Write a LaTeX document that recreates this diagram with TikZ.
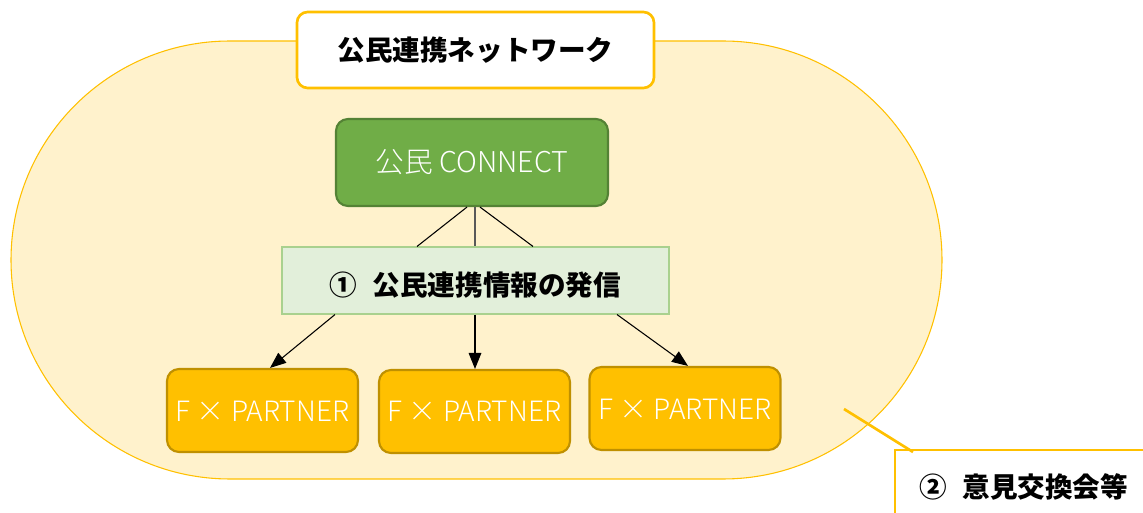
\documentclass[tikz,border=0pt]{standalone}
\usepackage{fontspec}
\setmainfont{Noto Sans CJK JP}
\IfFontExistsTF{Noto Sans CJK JP Light}{\newfontfamily\lightjp{Noto Sans CJK JP Light}}{\newfontfamily\lightjp{Noto Sans CJK JP}}
\usetikzlibrary{arrows.meta}
\definecolor{bgfill}{HTML}{FFF2CC}
\definecolor{gold}{HTML}{FFC000}
\definecolor{golddark}{HTML}{BF9000}
\definecolor{grn}{HTML}{70AD47}
\definecolor{grndark}{HTML}{548235}
\definecolor{lgrn}{HTML}{E2EFDA}
\definecolor{lgrnline}{HTML}{A9D18E}
\tikzset{
  titlebox/.style={draw=gold, line width=2pt, fill=white, rounded corners=8pt, minimum width=267.75pt, minimum height=57pt, inner sep=0pt, font=\fontsize{20.7pt}{24pt}\selectfont\bfseries},
  connbox/.style={draw=grndark, line width=1.6pt, fill=grn, rounded corners=9pt, minimum width=204pt, minimum height=65.25pt, inner sep=0pt, text=white, font=\fontsize{21.5pt}{24pt}\selectfont\lightjp},
  infobox/.style={draw=lgrnline, line width=0.8pt, fill=lgrn, minimum width=290.25pt, minimum height=50.25pt, inner sep=0pt},
  partbox/.style={draw=golddark, line width=1.6pt, fill=gold, rounded corners=9pt, minimum width=143.25pt, minimum height=62.25pt, inner sep=0pt},
  whitetxt/.style={text=white, font=\fontsize{21pt}{24pt}\selectfont\lightjp},
  boldtxt/.style={font=\fontsize{20.7pt}{24pt}\selectfont\bfseries},
  arr/.style={-{Triangle[length=12pt,width=9.5pt]}, line width=0.8pt, black},
  thin/.style={line width=0.8pt, black},
}
\begin{document}
\begin{tikzpicture}[x=0.75pt,y=-0.75pt]
\useasboundingbox (0,0) rectangle (1143,513);
% network area
\draw[draw=gold, line width=0.8pt, fill=bgfill, rounded corners=164.25pt] (11,41) rectangle (942,479);
% title
\node[titlebox] (title) at (475.5,50) {公民連携ネットワーク};
% connect
\node[connbox] (conn) at (472,162.5) {公民 CONNECT};
% info
\node[infobox] (info) at (475.5,280.5) {};
\node[boldtxt] (infot) at (475.5,285) {①\hspace{0.55em}公民連携情報の発信};
% partners
\node[partbox] (p1) at (262.5,410.5) {};
\node[whitetxt] (p1t) at (262.5,411) {F × PARTNER};
\node[partbox] (p2) at (474.5,411.5) {};
\node[whitetxt] (p2t) at (474.5,411) {F × PARTNER};
\node[partbox] (p3) at (685,408.5) {};
\node[whitetxt] (p3t) at (685,409) {F × PARTNER};
% lines connect -> info
\draw[thin] (467,0 |- conn.south) -- (417,0 |- info.north);
\draw[line width=1.2pt, black!65] (475,0 |- conn.south) -- (475,0 |- info.north);
\draw[thin] (480,0 |- conn.south) -- (533,0 |- info.north);
% arrows info -> partners
\draw[arr] (335,0 |- info.south) -- (270,0 |- p1.north);
\draw[arr] (475,0 |- info.south) -- (475,0 |- p2.north);
\draw[arr] (617,0 |- info.south) -- (688,0 |- p3.north);
% callout
\coordinate (lead) at (844,409);
\coordinate (cnr) at (895,450);
\fill[white] (895,450) rectangle (1143,513);
\draw[gold, line width=2pt] (1143,450) -- (cnr) -- (895,513);
\node[boldtxt] (c2) at (1024,487) {②\hspace{0.55em}意見交換会等};
\draw[gold, line width=2pt] (lead) -- ([xshift=13.5pt,yshift=-1.5pt]cnr);
\end{tikzpicture}
\end{document}
